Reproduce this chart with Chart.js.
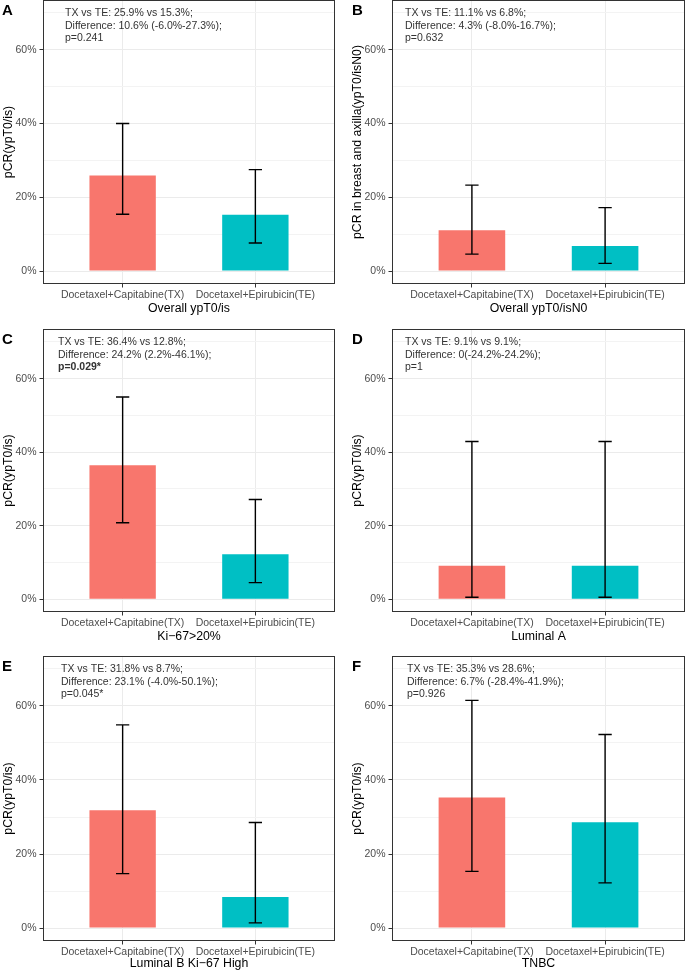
<!DOCTYPE html>
<html>
<head>
<meta charset="utf-8">
<script src="https://cdn.jsdelivr.net/npm/chart.js@4.4.1/dist/chart.umd.min.js"></script>
<style>
  body { margin: 0; background: #fff; }
  #wrap { position: relative; width: 685px; height: 972px; overflow: hidden; }
  canvas { position: absolute; }
</style>
</head>
<body>
<div id="wrap"></div>
<script>
// groups on the x axis (same in every panel)
var groups = ['Docetaxel+Capitabine(TX)', 'Docetaxel+Epirubicin(TE)'];
var tags = ['A', 'B', 'C', 'D', 'E', 'F'];
var xTitles = ['Overall ypT0/is', 'Overall ypT0/isN0', 'Ki\u221267>20%', 'Luminal A', 'Luminal B Ki\u221267 High', 'TNBC'];
var yTitles = ['pCR(ypT0/is)', 'pCR in breast and axilla(ypT0/isN0)', 'pCR(ypT0/is)', 'pCR(ypT0/is)', 'pCR(ypT0/is)', 'pCR(ypT0/is)'];

// pCR rates (%) and 95% CI
var pcrTX  = [25.9, 11.1, 36.4, 9.1, 31.8, 35.3];
var pcrTE  = [15.3, 6.8, 12.2, 9.1, 8.4, 28.6];
var lowTX  = [15.4, 4.6, 20.8, 0.5, 14.7, 15.3];
var highTX = [40.0, 23.3, 55.0, 42.9, 54.9, 61.5];
var lowTE  = [7.6, 2.1, 4.5, 0.5, 1.4, 12.2];
var highTE = [27.5, 17.2, 27.1, 42.9, 28.5, 52.3];

var yTicks = [0, 10, 20, 30, 40, 50, 60, 70];
var yMin = -3.5, yMax = 73.5;

var notes = [
  ['TX vs TE: 25.9% vs 15.3%;', 'Difference: 10.6% (-6.0%-27.3%);', 'p=0.241'],
  ['TX vs TE: 11.1% vs 6.8%;', 'Difference: 4.3% (-8.0%-16.7%);', 'p=0.632'],
  ['TX vs TE: 36.4% vs 12.8%;', 'Difference: 24.2% (2.2%-46.1%);', 'p=0.029*'],
  ['TX vs TE: 9.1% vs 9.1%;', 'Difference: 0(-24.2%-24.2%);', 'p=1'],
  ['TX vs TE: 31.8% vs 8.7%;', 'Difference: 23.1% (-4.0%-50.1%);', 'p=0.045*'],
  ['TX vs TE: 35.3% vs 28.6%;', 'Difference: 6.7% (-28.4%-41.9%);', 'p=0.926']
];
var boldP = [false, false, true, false, false, false];

// where each panel sits on the page
var cells = [
  {left: 0,   top: 0,   w: 336, h: 325, padR: 1, axisH: 41, titlePad: 8.6, noteX: 22, tagX: 2},
  {left: 349, top: 0,   w: 336, h: 325, padR: 0, axisH: 41, titlePad: 8.6, noteX: 13, tagX: 3},
  {left: 0,   top: 329, w: 336, h: 324, padR: 1, axisH: 41, titlePad: 8.6, noteX: 15, tagX: 2},
  {left: 349, top: 329, w: 336, h: 324, padR: 0, axisH: 41, titlePad: 8.6, noteX: 13, tagX: 3},
  {left: 0,   top: 656, w: 336, h: 316, padR: 1, axisH: 31, titlePad: 1.3, noteX: 18, tagX: 2},
  {left: 349, top: 656, w: 336, h: 316, padR: 0, axisH: 31, titlePad: 1.3, noteX: 15, tagX: 3}
];

var FONT = '"Liberation Sans", Arial, Helvetica, sans-serif';
Chart.defaults.font.family = FONT;

var panelPlugin = {
  id: 'panel',
  afterDatasetsDraw: function(chart) {
    var i = chart.options.panelIndex;
    var xs = chart.scales.x, ys = chart.scales.y, ctx = chart.ctx;
    var lows = [lowTX[i], lowTE[i]], highs = [highTX[i], highTE[i]];
    var half = xs.getPixelForValue(0.05) - xs.getPixelForValue(0);
    ctx.save();
    ctx.strokeStyle = '#000';
    ctx.lineWidth = 1.4;
    for (var k = 0; k < 2; k++) {
      var x = xs.getPixelForValue(k + 1);
      var y1 = ys.getPixelForValue(lows[k]), y2 = ys.getPixelForValue(highs[k]);
      ctx.beginPath();
      ctx.moveTo(x, y1); ctx.lineTo(x, y2);
      ctx.moveTo(x - half, y1); ctx.lineTo(x + half, y1);
      ctx.moveTo(x - half, y2); ctx.lineTo(x + half, y2);
      ctx.stroke();
    }
    ctx.restore();
  },
  afterDraw: function(chart) {
    var i = chart.options.panelIndex;
    var a = chart.chartArea, ctx = chart.ctx;
    ctx.save();
    ctx.strokeStyle = '#333';
    ctx.lineWidth = 1;
    ctx.strokeRect(a.left + 0.5, a.top + 0.5, a.right - a.left - 1, a.bottom - a.top - 1);
    // annotation text
    ctx.fillStyle = '#333';
    ctx.textBaseline = 'middle';
    ctx.textAlign = 'left';
    for (var j = 0; j < 3; j++) {
      ctx.font = (j == 2 && boldP[i] ? 'bold ' : '') + '10.5px ' + FONT;
      ctx.fillText(notes[i][j], a.left + cells[i].noteX, a.top + 13 + j * 12.8);
    }
    // panel letter
    ctx.fillStyle = '#000';
    ctx.textBaseline = 'alphabetic';
    ctx.font = 'bold 15px ' + FONT;
    ctx.fillText(tags[i], cells[i].tagX, 15);
    ctx.restore();
  }
};

var wrap = document.getElementById('wrap');
for (var i = 0; i < 6; i++) {
  var c = cells[i];
  var cv = document.createElement('canvas');
  cv.width = c.w; cv.height = c.h;
  cv.style.left = c.left + 'px'; cv.style.top = c.top + 'px';
  cv.style.width = c.w + 'px'; cv.style.height = c.h + 'px';
  wrap.appendChild(cv);

  new Chart(cv.getContext('2d'), {
    type: 'bar',
    data: {
      datasets: [{
        data: [{x: 1, y: pcrTX[i]}, {x: 2, y: pcrTE[i]}],
        backgroundColor: ['#F8766D', '#00BFC4'],
        borderWidth: 0,
        barPercentage: 0.5,
        categoryPercentage: 1
      }]
    },
    options: {
      panelIndex: i,
      responsive: false,
      animation: false,
      devicePixelRatio: 1,
      layout: { padding: { top: 0, right: c.padR, left: 0, bottom: 0 } },
      plugins: { legend: { display: false }, tooltip: { enabled: false } },
      scales: {
        x: {
          type: 'linear',
          offset: false,
          min: 0.4, max: 2.6,
          afterBuildTicks: function(s) { s.ticks = [{value: 1}, {value: 2}]; },
          afterFit: (function(h) {
            return function(s) { s.height = h; s.paddingLeft = 0; s.paddingRight = 0; };
          })(c.axisH),
          ticks: {
            autoSkip: false, maxRotation: 0, padding: 1,
            color: '#4D4D4D', font: { size: 10.5 },
            callback: function(v) { return groups[v - 1]; }
          },
          grid: { offset: false, color: '#EBEBEB', lineWidth: 1, tickLength: 3.5, tickColor: '#333' },
          border: { display: false },
          title: {
            display: true, text: xTitles[i], color: '#000',
            font: { size: 12.3 }, padding: { top: 0, bottom: c.titlePad }
          }
        },
        y: {
          min: yMin, max: yMax,
          afterBuildTicks: function(s) { s.ticks = yTicks.map(function(v) { return {value: v}; }); },
          afterFit: function(s) { s.width = 43; s.paddingTop = 0; s.paddingBottom = 0; },
          ticks: {
            padding: 3, color: '#4D4D4D', font: { size: 10.5 },
            callback: function(v) { return v % 20 === 0 ? v + '%' : ''; }
          },
          grid: {
            tickLength: 3.5,
            color: function(ctx) { return ctx.tick && ctx.tick.value % 20 === 0 ? '#EBEBEB' : '#F3F3F3'; },
            tickColor: function(ctx) { return ctx.tick && ctx.tick.value % 20 === 0 ? '#333' : 'rgba(0,0,0,0)'; }
          },
          border: { display: false },
          title: {
            display: true, text: yTitles[i], color: '#000',
            font: { size: 12.3 }, padding: { top: 1.5, bottom: 0 }
          }
        }
      }
    },
    plugins: [panelPlugin]
  });
}
</script>
</body>
</html>
